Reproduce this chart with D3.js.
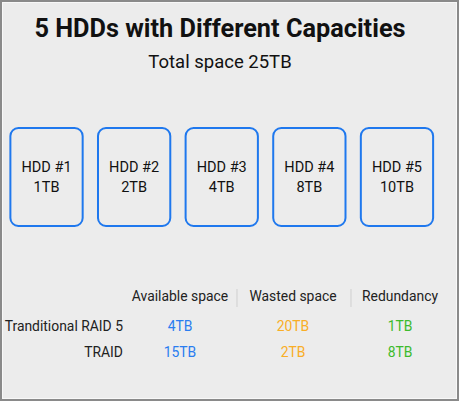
<!DOCTYPE html>
<html><head><meta charset="utf-8">
<script src="https://cdn.jsdelivr.net/npm/d3@7"></script>
<style>html,body{margin:0;padding:0;background:#ececec;}svg{display:block;font-family:Roboto,"Noto Sans",sans-serif;}</style>
</head><body>
<script>
const title = "5 HDDs with Different Capacities";
const subtitle = "Total space 25TB";
const drives = ["HDD #1","HDD #2","HDD #3","HDD #4","HDD #5"];
const capacities = ["1TB","2TB","4TB","8TB","10TB"];
const columns = ["Available space","Wasted space","Redundancy"];
const rows = ["Tranditional RAID 5","TRAID"];
const raid5Values = ["4TB","20TB","1TB"];
const traidValues = ["15TB","2TB","8TB"];
const colColors = ["#2a7df0","#f9ae26","#3dbb2c"];

const W = 459, H = 401;
const svg = d3.select("body").append("svg").attr("width", W).attr("height", H);
svg.append("rect").attr("x",0).attr("y",0).attr("width",W).attr("height",H).attr("fill","#ececec");
svg.append("rect").attr("x",1).attr("y",1).attr("width",W-2).attr("height",H-2).attr("fill","none").attr("stroke","#8a8a8a").attr("stroke-width",2);
svg.append("rect").attr("x",2.5).attr("y",2.5).attr("width",W-5).attr("height",H-5).attr("fill","none").attr("stroke","#f8f8f8").attr("stroke-width",1);

svg.append("text").attr("x",220).attr("y",37).attr("text-anchor","middle")
  .attr("font-size",25.3).attr("font-weight","bold").attr("fill","#111").text(title);
svg.append("text").attr("x",220).attr("y",68).attr("text-anchor","middle")
  .attr("font-size",18.5).attr("fill","#111").text(subtitle);

const xBox = d3.scaleBand().domain(drives).range([2.5, 441]).paddingInner(0.175).paddingOuter(0.09);
const g = svg.selectAll("g.drive").data(drives).join("g").attr("class","drive")
  .attr("transform", d => `translate(${xBox(d)},128)`);
g.append("rect").attr("width", xBox.bandwidth()).attr("height", 98).attr("rx", 8)
  .attr("fill","none").attr("stroke","#1f78ee").attr("stroke-width",2);
g.append("text").attr("x", xBox.bandwidth()/2).attr("y", 44).attr("text-anchor","middle")
  .attr("font-size",14.5).attr("fill","#111").text(d => d);
g.append("text").attr("x", xBox.bandwidth()/2).attr("y", 64).attr("text-anchor","middle")
  .attr("font-size",14.5).attr("fill","#111").text((d,i) => capacities[i]);

const colCenters = [180, 293, 400];
svg.selectAll("text.hdr").data(columns).join("text").attr("class","hdr")
  .attr("x",(d,i)=>colCenters[i]).attr("y",301).attr("text-anchor","middle")
  .attr("font-size",13.9).attr("fill","#222").text(d=>d);
svg.selectAll("line.sep").data([237, 351]).join("line").attr("class","sep")
  .attr("x1",d=>d).attr("x2",d=>d).attr("y1",289).attr("y2",307)
  .attr("stroke","#cfcfcf").attr("stroke-width",1);

const rowY = d3.scalePoint().domain(rows).range([331, 357]);
const vals = [raid5Values, traidValues];
rows.forEach((r, ri) => {
  svg.append("text").attr("x",123).attr("y",rowY(r)).attr("text-anchor","end")
    .attr("font-size",13.9).attr("fill","#222").text(r);
  svg.selectAll(null).data(vals[ri]).join("text")
    .attr("x",(d,i)=>colCenters[i]).attr("y",rowY(r)).attr("text-anchor","middle")
    .attr("font-size",13.9).attr("fill",(d,i)=>colColors[i]).text(d=>d);
});
</script>
</body></html>
